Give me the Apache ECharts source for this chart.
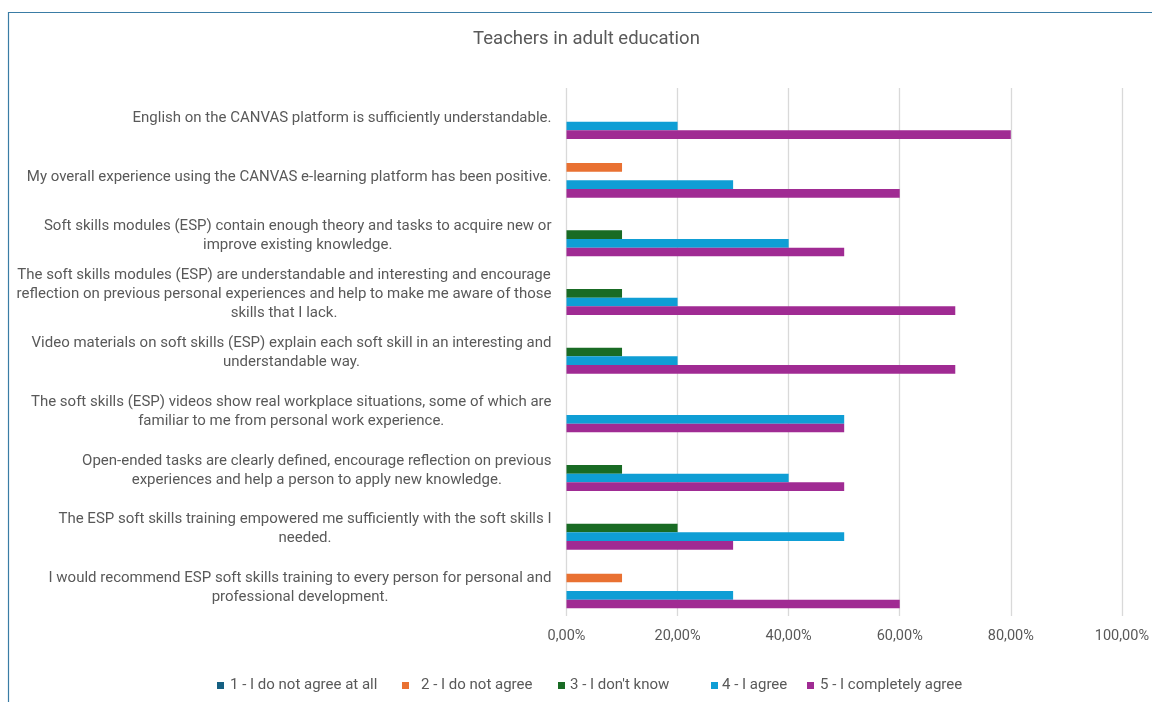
<!DOCTYPE html>
<html>
<head>
<meta charset="utf-8">
<script src="https://cdn.jsdelivr.net/npm/echarts@6/dist/echarts.min.js"></script>
<style>
html,body{margin:0;padding:0;background:#fff;}
#chart{width:1152px;height:702px;}
</style>
</head>
<body>
<div id="chart"></div>
<script>
const title = 'Teachers in adult education';
const categories = [
  'English on the CANVAS platform is sufficiently understandable.',
  'My overall experience using the CANVAS e-learning platform has been positive.',
  'Soft skills modules (ESP) contain enough theory and tasks to acquire new or\nimprove existing knowledge.',
  'The soft skills modules (ESP) are understandable and interesting and encourage\nreflection on previous personal experiences and help to make me aware of those\nskills that I lack.',
  'Video materials on soft skills (ESP) explain each soft skill in an interesting and\nunderstandable way.',
  'The soft skills (ESP) videos show real workplace situations, some of which are\nfamiliar to me from personal work experience.',
  'Open-ended tasks are clearly defined, encourage reflection on previous\nexperiences and help a person to apply new knowledge.',
  'The ESP soft skills training empowered me sufficiently with the soft skills I\nneeded.',
  'I would recommend ESP soft skills training to every person for personal and\nprofessional development.'
];
const seriesNames = ['1 - I do not agree at all', '2 - I do not agree', '3 - I don\'t know', '4 - I agree', '5 - I completely agree'];
const s1 = [0, 0, 0, 0, 0, 0, 0, 0, 0];
const s2 = [0, 10, 0, 0, 0, 0, 0, 0, 10];
const s3 = [0, 0, 10, 10, 10, 0, 10, 20, 0];
const s4 = [20, 30, 40, 20, 20, 50, 40, 50, 30];
const s5 = [80, 60, 50, 70, 70, 50, 50, 30, 60];
const xTicks = [0, 20, 40, 60, 80, 100];
const colors = ['#156082', '#E97132', '#196B24', '#0F9ED5', '#A02B93'];

const FONT = 'Roboto';
const allData = [s1, s2, s3, s4, s5];
const legendLeft = [217, 402, 558, 711, 807];
const legendPad = [1, 7, 0, -1, 1];
const chart = echarts.init(document.getElementById('chart'));
chart.setOption({
  animation: false,
  color: colors,
  textStyle: { fontFamily: FONT },
  title: {
    text: title,
    left: 581.5, top: 25, textAlign: 'center',
    textStyle: { fontFamily: FONT, fontSize: 18.5, fontWeight: 'normal', color: '#595959' }
  },
  graphic: [{
    type: 'polyline', silent: true,
    shape: { points: [[8.5, 702], [8.5, 12.5], [1152, 12.5]] },
    style: { stroke: '#3A7CA5', lineWidth: 1.2, fill: null }
  }],
  legend: seriesNames.map((n, i) => ({
    left: legendLeft[i], top: 678, padding: 0,
    itemWidth: 7, itemHeight: 7,
    icon: 'rect',
    textStyle: { fontFamily: FONT, fontSize: 15, color: '#595959', padding: [0, 0, 0, legendPad[i]] },
    data: [n]
  })),
  grid: { left: 566.5, right: 27, top: 88, bottom: 86, containLabel: false },
  xAxis: {
    type: 'value', min: xTicks[0], max: xTicks[xTicks.length - 1], interval: 20,
    axisLine: { show: false }, axisTick: { show: false },
    splitLine: { lineStyle: { color: '#d9d9d9', width: 1.3 } },
    axisLabel: {
      margin: 13, fontSize: 14.5, color: '#595959', fontFamily: FONT,
      formatter: v => v.toFixed(2).replace('.', ',') + '%'
    }
  },
  yAxis: {
    type: 'category', inverse: true, data: categories,
    axisLine: { show: false }, axisTick: { show: false },
    axisLabel: {
      margin: 15, align: 'right', fontSize: 15, color: '#595959', fontFamily: FONT,
      lineHeight: 19,
      formatter: v => v.split('\n').map(l => '{c|' + l + '}').join('\n'),
      rich: { c: { align: 'center', fontSize: 15, lineHeight: 19, color: '#595959', fontFamily: FONT, padding: [2, 0, 0, 0] } }
    }
  },
  series: seriesNames.map((n, i) => ({
    name: n, type: 'bar', data: allData[i],
    barGap: '0%', barCategoryGap: '26%'
  }))
});
</script>
</body>
</html>
